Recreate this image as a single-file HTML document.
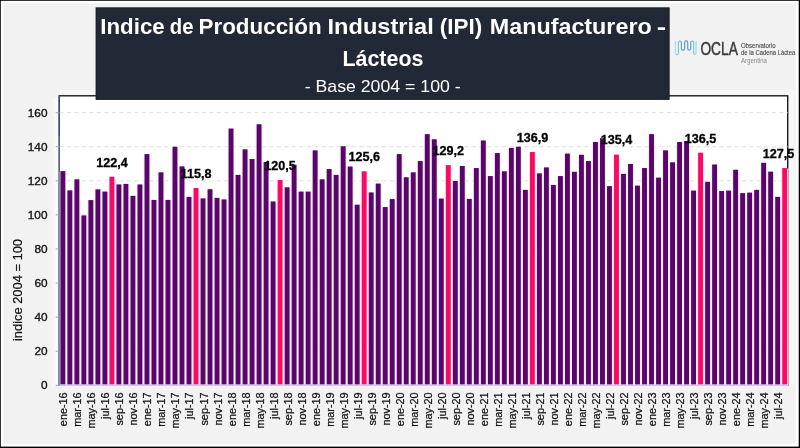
<!DOCTYPE html>
<html lang="es"><head><meta charset="utf-8">
<title>Indice de Producción Industrial (IPI) Manufacturero - Lácteos</title>
<style>
html,body{margin:0;padding:0;background:#f2f2f2;}
body{width:800px;height:448px;overflow:hidden;position:relative;font-family:"Liberation Sans",sans-serif;}
svg{position:absolute;left:0;top:0;display:block;will-change:transform;}
svg text{font-family:"Liberation Sans",sans-serif;}
</style></head><body>
<svg width="800" height="448" viewBox="0 0 800 448">
<rect x="0" y="0" width="800" height="448" fill="#000"/>
<rect x="0.8" y="0.8" width="797.9" height="445.8" fill="#fff"/>
<rect x="3.2" y="3.2" width="792.6" height="441" fill="#f2f2f2"/>
<defs><linearGradient id="hl" x1="0" y1="0" x2="1" y2="0"><stop offset="0" stop-color="#f2f2f2"/><stop offset="1" stop-color="#fdfdfd"/></linearGradient></defs>
<rect x="50" y="97.8" width="8.6" height="288.2" fill="url(#hl)"/>
<rect x="59.3" y="90.3" width="735.4000000000001" height="5.5" fill="#f7f7f7"/>
<rect x="787.7" y="90.3" width="7" height="294.7" fill="#f7f7f7"/>
<rect x="59.3" y="95.8" width="728.4000000000001" height="289.2" fill="#fff" stroke="#1a1a1a" stroke-width="1.4"/>
<line x1="59.3" y1="351.22" x2="787.7" y2="351.22" stroke="#d9d9d9" stroke-width="0.9" stroke-dasharray="4.2 3.3"/>
<line x1="59.3" y1="317.14" x2="787.7" y2="317.14" stroke="#d9d9d9" stroke-width="0.9" stroke-dasharray="4.2 3.3"/>
<line x1="59.3" y1="283.06" x2="787.7" y2="283.06" stroke="#d9d9d9" stroke-width="0.9" stroke-dasharray="4.2 3.3"/>
<line x1="59.3" y1="248.98" x2="787.7" y2="248.98" stroke="#d9d9d9" stroke-width="0.9" stroke-dasharray="4.2 3.3"/>
<line x1="59.3" y1="214.90" x2="787.7" y2="214.90" stroke="#d9d9d9" stroke-width="0.9" stroke-dasharray="4.2 3.3"/>
<line x1="59.3" y1="180.82" x2="787.7" y2="180.82" stroke="#d9d9d9" stroke-width="0.9" stroke-dasharray="4.2 3.3"/>
<line x1="59.3" y1="146.74" x2="787.7" y2="146.74" stroke="#d9d9d9" stroke-width="0.9" stroke-dasharray="4.2 3.3"/>
<line x1="59.3" y1="112.66" x2="787.7" y2="112.66" stroke="#d9d9d9" stroke-width="0.9" stroke-dasharray="4.2 3.3"/>
<g shape-rendering="auto">
<rect x="59.35" y="171.61" width="7.00" height="213.69" fill="#fdeafd"/>
<rect x="60.40" y="171.11" width="4.9" height="213.49" fill="#58066a"/>
<rect x="66.36" y="190.86" width="7.00" height="194.44" fill="#fdeafd"/>
<rect x="67.41" y="190.36" width="4.9" height="194.24" fill="#58066a"/>
<rect x="73.37" y="179.79" width="7.00" height="205.51" fill="#fdeafd"/>
<rect x="74.42" y="179.29" width="4.9" height="205.31" fill="#58066a"/>
<rect x="80.37" y="215.91" width="7.00" height="169.39" fill="#fdeafd"/>
<rect x="81.42" y="215.41" width="4.9" height="169.19" fill="#58066a"/>
<rect x="87.38" y="200.58" width="7.00" height="184.72" fill="#fdeafd"/>
<rect x="88.43" y="200.08" width="4.9" height="184.52" fill="#58066a"/>
<rect x="94.39" y="189.84" width="7.00" height="195.46" fill="#fdeafd"/>
<rect x="95.44" y="189.34" width="4.9" height="195.26" fill="#58066a"/>
<rect x="101.40" y="192.06" width="7.00" height="193.24" fill="#fdeafd"/>
<rect x="102.45" y="191.56" width="4.9" height="193.04" fill="#58066a"/>
<rect x="108.41" y="177.23" width="7.00" height="208.07" fill="#fdeafd"/>
<rect x="109.46" y="176.73" width="4.9" height="207.87" fill="#fb0a64"/>
<rect x="115.41" y="184.90" width="7.00" height="200.40" fill="#fdeafd"/>
<rect x="116.46" y="184.40" width="4.9" height="200.20" fill="#58066a"/>
<rect x="122.42" y="184.39" width="7.00" height="200.91" fill="#fdeafd"/>
<rect x="123.47" y="183.89" width="4.9" height="200.71" fill="#58066a"/>
<rect x="129.43" y="196.32" width="7.00" height="188.98" fill="#fdeafd"/>
<rect x="130.48" y="195.82" width="4.9" height="188.78" fill="#58066a"/>
<rect x="136.44" y="184.90" width="7.00" height="200.40" fill="#fdeafd"/>
<rect x="137.49" y="184.40" width="4.9" height="200.20" fill="#58066a"/>
<rect x="143.45" y="154.57" width="7.00" height="230.73" fill="#fdeafd"/>
<rect x="144.50" y="154.07" width="4.9" height="230.53" fill="#58066a"/>
<rect x="150.45" y="200.40" width="7.00" height="184.90" fill="#fdeafd"/>
<rect x="151.50" y="199.90" width="4.9" height="184.70" fill="#58066a"/>
<rect x="157.46" y="172.80" width="7.00" height="212.50" fill="#fdeafd"/>
<rect x="158.51" y="172.30" width="4.9" height="212.30" fill="#58066a"/>
<rect x="164.47" y="200.40" width="7.00" height="184.90" fill="#fdeafd"/>
<rect x="165.52" y="199.90" width="4.9" height="184.70" fill="#58066a"/>
<rect x="171.48" y="147.24" width="7.00" height="238.06" fill="#fdeafd"/>
<rect x="172.53" y="146.74" width="4.9" height="237.86" fill="#58066a"/>
<rect x="178.49" y="166.84" width="7.00" height="218.46" fill="#fdeafd"/>
<rect x="179.54" y="166.34" width="4.9" height="218.26" fill="#58066a"/>
<rect x="185.49" y="197.34" width="7.00" height="187.96" fill="#fdeafd"/>
<rect x="186.54" y="196.84" width="4.9" height="187.76" fill="#58066a"/>
<rect x="192.50" y="188.48" width="7.00" height="196.82" fill="#fdeafd"/>
<rect x="193.55" y="187.98" width="4.9" height="196.62" fill="#fb0a64"/>
<rect x="199.51" y="198.87" width="7.00" height="186.43" fill="#fdeafd"/>
<rect x="200.56" y="198.37" width="4.9" height="186.23" fill="#58066a"/>
<rect x="206.52" y="189.67" width="7.00" height="195.63" fill="#fdeafd"/>
<rect x="207.57" y="189.17" width="4.9" height="195.43" fill="#58066a"/>
<rect x="213.53" y="198.36" width="7.00" height="186.94" fill="#fdeafd"/>
<rect x="214.58" y="197.86" width="4.9" height="186.74" fill="#58066a"/>
<rect x="220.53" y="199.89" width="7.00" height="185.41" fill="#fdeafd"/>
<rect x="221.58" y="199.39" width="4.9" height="185.21" fill="#58066a"/>
<rect x="227.54" y="129.01" width="7.00" height="256.29" fill="#fdeafd"/>
<rect x="228.59" y="128.51" width="4.9" height="256.09" fill="#58066a"/>
<rect x="234.55" y="175.36" width="7.00" height="209.94" fill="#fdeafd"/>
<rect x="235.60" y="174.86" width="4.9" height="209.74" fill="#58066a"/>
<rect x="241.56" y="149.80" width="7.00" height="235.50" fill="#fdeafd"/>
<rect x="242.61" y="149.30" width="4.9" height="235.30" fill="#58066a"/>
<rect x="248.57" y="159.51" width="7.00" height="225.79" fill="#fdeafd"/>
<rect x="249.62" y="159.01" width="4.9" height="225.59" fill="#58066a"/>
<rect x="255.57" y="124.75" width="7.00" height="260.55" fill="#fdeafd"/>
<rect x="256.62" y="124.25" width="4.9" height="260.35" fill="#58066a"/>
<rect x="262.58" y="162.58" width="7.00" height="222.72" fill="#fdeafd"/>
<rect x="263.63" y="162.08" width="4.9" height="222.52" fill="#58066a"/>
<rect x="269.59" y="201.94" width="7.00" height="183.36" fill="#fdeafd"/>
<rect x="270.64" y="201.44" width="4.9" height="183.16" fill="#58066a"/>
<rect x="276.60" y="180.47" width="7.00" height="204.83" fill="#fdeafd"/>
<rect x="277.65" y="179.97" width="4.9" height="204.63" fill="#fb0a64"/>
<rect x="283.61" y="187.80" width="7.00" height="197.50" fill="#fdeafd"/>
<rect x="284.66" y="187.30" width="4.9" height="197.30" fill="#58066a"/>
<rect x="290.61" y="165.30" width="7.00" height="220.00" fill="#fdeafd"/>
<rect x="291.66" y="164.80" width="4.9" height="219.80" fill="#58066a"/>
<rect x="297.62" y="192.06" width="7.00" height="193.24" fill="#fdeafd"/>
<rect x="298.67" y="191.56" width="4.9" height="193.04" fill="#58066a"/>
<rect x="304.63" y="192.06" width="7.00" height="193.24" fill="#fdeafd"/>
<rect x="305.68" y="191.56" width="4.9" height="193.04" fill="#58066a"/>
<rect x="311.64" y="150.82" width="7.00" height="234.48" fill="#fdeafd"/>
<rect x="312.69" y="150.32" width="4.9" height="234.28" fill="#58066a"/>
<rect x="318.65" y="179.79" width="7.00" height="205.51" fill="#fdeafd"/>
<rect x="319.70" y="179.29" width="4.9" height="205.31" fill="#58066a"/>
<rect x="325.65" y="169.56" width="7.00" height="215.74" fill="#fdeafd"/>
<rect x="326.70" y="169.06" width="4.9" height="215.54" fill="#58066a"/>
<rect x="332.66" y="175.36" width="7.00" height="209.94" fill="#fdeafd"/>
<rect x="333.71" y="174.86" width="4.9" height="209.74" fill="#58066a"/>
<rect x="339.67" y="146.73" width="7.00" height="238.57" fill="#fdeafd"/>
<rect x="340.72" y="146.23" width="4.9" height="238.37" fill="#58066a"/>
<rect x="346.68" y="167.01" width="7.00" height="218.29" fill="#fdeafd"/>
<rect x="347.73" y="166.51" width="4.9" height="218.09" fill="#58066a"/>
<rect x="353.69" y="205.18" width="7.00" height="180.12" fill="#fdeafd"/>
<rect x="354.74" y="204.68" width="4.9" height="179.92" fill="#58066a"/>
<rect x="360.69" y="171.78" width="7.00" height="213.52" fill="#fdeafd"/>
<rect x="361.74" y="171.28" width="4.9" height="213.32" fill="#fb0a64"/>
<rect x="367.70" y="192.91" width="7.00" height="192.39" fill="#fdeafd"/>
<rect x="368.75" y="192.41" width="4.9" height="192.19" fill="#58066a"/>
<rect x="374.71" y="184.05" width="7.00" height="201.25" fill="#fdeafd"/>
<rect x="375.76" y="183.55" width="4.9" height="201.05" fill="#58066a"/>
<rect x="381.72" y="207.56" width="7.00" height="177.74" fill="#fdeafd"/>
<rect x="382.77" y="207.06" width="4.9" height="177.54" fill="#58066a"/>
<rect x="388.73" y="199.55" width="7.00" height="185.75" fill="#fdeafd"/>
<rect x="389.78" y="199.05" width="4.9" height="185.55" fill="#58066a"/>
<rect x="395.73" y="154.57" width="7.00" height="230.73" fill="#fdeafd"/>
<rect x="396.78" y="154.07" width="4.9" height="230.53" fill="#58066a"/>
<rect x="402.74" y="177.74" width="7.00" height="207.56" fill="#fdeafd"/>
<rect x="403.79" y="177.24" width="4.9" height="207.36" fill="#58066a"/>
<rect x="409.75" y="172.80" width="7.00" height="212.50" fill="#fdeafd"/>
<rect x="410.80" y="172.30" width="4.9" height="212.30" fill="#58066a"/>
<rect x="416.76" y="161.55" width="7.00" height="223.75" fill="#fdeafd"/>
<rect x="417.81" y="161.05" width="4.9" height="223.55" fill="#58066a"/>
<rect x="423.77" y="134.63" width="7.00" height="250.67" fill="#fdeafd"/>
<rect x="424.82" y="134.13" width="4.9" height="250.47" fill="#58066a"/>
<rect x="430.77" y="139.74" width="7.00" height="245.56" fill="#fdeafd"/>
<rect x="431.82" y="139.24" width="4.9" height="245.36" fill="#58066a"/>
<rect x="437.78" y="199.04" width="7.00" height="186.26" fill="#fdeafd"/>
<rect x="438.83" y="198.54" width="4.9" height="186.06" fill="#58066a"/>
<rect x="444.79" y="165.64" width="7.00" height="219.66" fill="#fdeafd"/>
<rect x="445.84" y="165.14" width="4.9" height="219.46" fill="#fb0a64"/>
<rect x="451.80" y="181.49" width="7.00" height="203.81" fill="#fdeafd"/>
<rect x="452.85" y="180.99" width="4.9" height="203.61" fill="#58066a"/>
<rect x="458.81" y="166.50" width="7.00" height="218.80" fill="#fdeafd"/>
<rect x="459.86" y="166.00" width="4.9" height="218.60" fill="#58066a"/>
<rect x="465.81" y="199.38" width="7.00" height="185.92" fill="#fdeafd"/>
<rect x="466.86" y="198.88" width="4.9" height="185.72" fill="#58066a"/>
<rect x="472.82" y="168.54" width="7.00" height="216.76" fill="#fdeafd"/>
<rect x="473.87" y="168.04" width="4.9" height="216.56" fill="#58066a"/>
<rect x="479.83" y="140.94" width="7.00" height="244.36" fill="#fdeafd"/>
<rect x="480.88" y="140.44" width="4.9" height="244.16" fill="#58066a"/>
<rect x="486.84" y="176.55" width="7.00" height="208.75" fill="#fdeafd"/>
<rect x="487.89" y="176.05" width="4.9" height="208.55" fill="#58066a"/>
<rect x="493.85" y="153.54" width="7.00" height="231.76" fill="#fdeafd"/>
<rect x="494.90" y="153.04" width="4.9" height="231.56" fill="#58066a"/>
<rect x="500.85" y="171.78" width="7.00" height="213.52" fill="#fdeafd"/>
<rect x="501.90" y="171.28" width="4.9" height="213.32" fill="#58066a"/>
<rect x="507.86" y="148.43" width="7.00" height="236.87" fill="#fdeafd"/>
<rect x="508.91" y="147.93" width="4.9" height="236.67" fill="#58066a"/>
<rect x="514.87" y="147.24" width="7.00" height="238.06" fill="#fdeafd"/>
<rect x="515.92" y="146.74" width="4.9" height="237.86" fill="#58066a"/>
<rect x="521.88" y="190.35" width="7.00" height="194.95" fill="#fdeafd"/>
<rect x="522.93" y="189.85" width="4.9" height="194.75" fill="#58066a"/>
<rect x="528.89" y="152.52" width="7.00" height="232.78" fill="#fdeafd"/>
<rect x="529.94" y="152.02" width="4.9" height="232.58" fill="#fb0a64"/>
<rect x="535.89" y="173.82" width="7.00" height="211.48" fill="#fdeafd"/>
<rect x="536.94" y="173.32" width="4.9" height="211.28" fill="#58066a"/>
<rect x="542.90" y="167.86" width="7.00" height="217.44" fill="#fdeafd"/>
<rect x="543.95" y="167.36" width="4.9" height="217.24" fill="#58066a"/>
<rect x="549.91" y="185.41" width="7.00" height="199.89" fill="#fdeafd"/>
<rect x="550.96" y="184.91" width="4.9" height="199.69" fill="#58066a"/>
<rect x="556.92" y="176.55" width="7.00" height="208.75" fill="#fdeafd"/>
<rect x="557.97" y="176.05" width="4.9" height="208.55" fill="#58066a"/>
<rect x="563.93" y="154.06" width="7.00" height="231.24" fill="#fdeafd"/>
<rect x="564.98" y="153.56" width="4.9" height="231.04" fill="#58066a"/>
<rect x="570.93" y="172.29" width="7.00" height="213.01" fill="#fdeafd"/>
<rect x="571.98" y="171.79" width="4.9" height="212.81" fill="#58066a"/>
<rect x="577.94" y="155.25" width="7.00" height="230.05" fill="#fdeafd"/>
<rect x="578.99" y="154.75" width="4.9" height="229.85" fill="#58066a"/>
<rect x="584.95" y="161.55" width="7.00" height="223.75" fill="#fdeafd"/>
<rect x="586.00" y="161.05" width="4.9" height="223.55" fill="#58066a"/>
<rect x="591.96" y="142.47" width="7.00" height="242.83" fill="#fdeafd"/>
<rect x="593.01" y="141.97" width="4.9" height="242.63" fill="#58066a"/>
<rect x="598.97" y="138.72" width="7.00" height="246.58" fill="#fdeafd"/>
<rect x="600.02" y="138.22" width="4.9" height="246.38" fill="#58066a"/>
<rect x="605.97" y="186.60" width="7.00" height="198.70" fill="#fdeafd"/>
<rect x="607.02" y="186.10" width="4.9" height="198.50" fill="#58066a"/>
<rect x="612.98" y="155.08" width="7.00" height="230.22" fill="#fdeafd"/>
<rect x="614.03" y="154.58" width="4.9" height="230.02" fill="#fb0a64"/>
<rect x="619.99" y="174.33" width="7.00" height="210.97" fill="#fdeafd"/>
<rect x="621.04" y="173.83" width="4.9" height="210.77" fill="#58066a"/>
<rect x="627.00" y="164.45" width="7.00" height="220.85" fill="#fdeafd"/>
<rect x="628.05" y="163.95" width="4.9" height="220.65" fill="#58066a"/>
<rect x="634.01" y="186.09" width="7.00" height="199.21" fill="#fdeafd"/>
<rect x="635.06" y="185.59" width="4.9" height="199.01" fill="#58066a"/>
<rect x="641.01" y="168.54" width="7.00" height="216.76" fill="#fdeafd"/>
<rect x="642.06" y="168.04" width="4.9" height="216.56" fill="#58066a"/>
<rect x="648.02" y="134.63" width="7.00" height="250.67" fill="#fdeafd"/>
<rect x="649.07" y="134.13" width="4.9" height="250.47" fill="#58066a"/>
<rect x="655.03" y="178.08" width="7.00" height="207.22" fill="#fdeafd"/>
<rect x="656.08" y="177.58" width="4.9" height="207.02" fill="#58066a"/>
<rect x="662.04" y="150.82" width="7.00" height="234.48" fill="#fdeafd"/>
<rect x="663.09" y="150.32" width="4.9" height="234.28" fill="#58066a"/>
<rect x="669.05" y="162.75" width="7.00" height="222.55" fill="#fdeafd"/>
<rect x="670.10" y="162.25" width="4.9" height="222.35" fill="#58066a"/>
<rect x="676.05" y="142.47" width="7.00" height="242.83" fill="#fdeafd"/>
<rect x="677.10" y="141.97" width="4.9" height="242.63" fill="#58066a"/>
<rect x="683.06" y="141.45" width="7.00" height="243.85" fill="#fdeafd"/>
<rect x="684.11" y="140.95" width="4.9" height="243.65" fill="#58066a"/>
<rect x="690.07" y="191.03" width="7.00" height="194.27" fill="#fdeafd"/>
<rect x="691.12" y="190.53" width="4.9" height="194.07" fill="#58066a"/>
<rect x="697.08" y="153.20" width="7.00" height="232.10" fill="#fdeafd"/>
<rect x="698.13" y="152.70" width="4.9" height="231.90" fill="#fb0a64"/>
<rect x="704.09" y="182.34" width="7.00" height="202.96" fill="#fdeafd"/>
<rect x="705.14" y="181.84" width="4.9" height="202.76" fill="#58066a"/>
<rect x="711.09" y="164.96" width="7.00" height="220.34" fill="#fdeafd"/>
<rect x="712.14" y="164.46" width="4.9" height="220.14" fill="#58066a"/>
<rect x="718.10" y="191.54" width="7.00" height="193.76" fill="#fdeafd"/>
<rect x="719.15" y="191.04" width="4.9" height="193.56" fill="#58066a"/>
<rect x="725.11" y="191.03" width="7.00" height="194.27" fill="#fdeafd"/>
<rect x="726.16" y="190.53" width="4.9" height="194.07" fill="#58066a"/>
<rect x="732.12" y="170.24" width="7.00" height="215.06" fill="#fdeafd"/>
<rect x="733.17" y="169.74" width="4.9" height="214.86" fill="#58066a"/>
<rect x="739.13" y="193.59" width="7.00" height="191.71" fill="#fdeafd"/>
<rect x="740.18" y="193.09" width="4.9" height="191.51" fill="#58066a"/>
<rect x="746.13" y="193.08" width="7.00" height="192.22" fill="#fdeafd"/>
<rect x="747.18" y="192.58" width="4.9" height="192.02" fill="#58066a"/>
<rect x="753.14" y="190.35" width="7.00" height="194.95" fill="#fdeafd"/>
<rect x="754.19" y="189.85" width="4.9" height="194.75" fill="#58066a"/>
<rect x="760.15" y="163.26" width="7.00" height="222.04" fill="#fdeafd"/>
<rect x="761.20" y="162.76" width="4.9" height="221.84" fill="#58066a"/>
<rect x="767.16" y="172.12" width="7.00" height="213.18" fill="#fdeafd"/>
<rect x="768.21" y="171.62" width="4.9" height="212.98" fill="#58066a"/>
<rect x="774.17" y="197.34" width="7.00" height="187.96" fill="#fdeafd"/>
<rect x="775.22" y="196.84" width="4.9" height="187.76" fill="#58066a"/>
<rect x="781.17" y="168.54" width="7.00" height="216.76" fill="#fdeafd"/>
<rect x="782.22" y="168.04" width="4.9" height="216.56" fill="#fb0a64"/>
</g>
<line x1="59.3" y1="385.2" x2="787.7" y2="385.2" stroke="#cfc8ea" stroke-width="1.5"/>
<line x1="59.05" y1="95.39999999999999" x2="59.05" y2="135.8" stroke="#55659a" stroke-width="1.25"/>
<line x1="59.099999999999994" y1="135.8" x2="59.099999999999994" y2="385.90000000000003" stroke="#7484b6" stroke-width="1.15"/>
<line x1="55.699999999999996" y1="385.30" x2="59.3" y2="385.30" stroke="#8f9bc0" stroke-width="0.9"/>
<line x1="55.699999999999996" y1="351.22" x2="59.3" y2="351.22" stroke="#8f9bc0" stroke-width="0.9"/>
<line x1="55.699999999999996" y1="317.14" x2="59.3" y2="317.14" stroke="#8f9bc0" stroke-width="0.9"/>
<line x1="55.699999999999996" y1="283.06" x2="59.3" y2="283.06" stroke="#8f9bc0" stroke-width="0.9"/>
<line x1="55.699999999999996" y1="248.98" x2="59.3" y2="248.98" stroke="#8f9bc0" stroke-width="0.9"/>
<line x1="55.699999999999996" y1="214.90" x2="59.3" y2="214.90" stroke="#8f9bc0" stroke-width="0.9"/>
<line x1="55.699999999999996" y1="180.82" x2="59.3" y2="180.82" stroke="#8f9bc0" stroke-width="0.9"/>
<line x1="55.699999999999996" y1="146.74" x2="59.3" y2="146.74" stroke="#8f9bc0" stroke-width="0.9"/>
<line x1="55.699999999999996" y1="112.66" x2="59.3" y2="112.66" stroke="#8f9bc0" stroke-width="0.9"/>
<text x="47.5" y="389.20" font-size="11.8" text-anchor="end" fill="#1a1a1a" stroke="#1a1a1a" stroke-width="0.4">0</text>
<text x="47.5" y="355.12" font-size="11.8" text-anchor="end" fill="#1a1a1a" stroke="#1a1a1a" stroke-width="0.4">20</text>
<text x="47.5" y="321.04" font-size="11.8" text-anchor="end" fill="#1a1a1a" stroke="#1a1a1a" stroke-width="0.4">40</text>
<text x="47.5" y="286.96" font-size="11.8" text-anchor="end" fill="#1a1a1a" stroke="#1a1a1a" stroke-width="0.4">60</text>
<text x="47.5" y="252.88" font-size="11.8" text-anchor="end" fill="#1a1a1a" stroke="#1a1a1a" stroke-width="0.4">80</text>
<text x="47.5" y="218.80" font-size="11.8" text-anchor="end" fill="#1a1a1a" stroke="#1a1a1a" stroke-width="0.4">100</text>
<text x="47.5" y="184.72" font-size="11.8" text-anchor="end" fill="#1a1a1a" stroke="#1a1a1a" stroke-width="0.4">120</text>
<text x="47.5" y="150.64" font-size="11.8" text-anchor="end" fill="#1a1a1a" stroke="#1a1a1a" stroke-width="0.4">140</text>
<text x="47.5" y="116.56" font-size="11.8" text-anchor="end" fill="#1a1a1a" stroke="#1a1a1a" stroke-width="0.4">160</text>
<text transform="translate(21.9,290) rotate(-90)" font-size="12.5" text-anchor="middle" fill="#111" stroke="#111" stroke-width="0.2" textLength="102" lengthAdjust="spacingAndGlyphs">indice 2004 = 100</text>
<text transform="translate(67.35,392.4) rotate(-90) scale(1.085,1)" font-size="10" text-anchor="end" fill="#111" stroke="#111" stroke-width="0.22">ene-16</text>
<text transform="translate(81.37,392.4) rotate(-90) scale(1.085,1)" font-size="10" text-anchor="end" fill="#111" stroke="#111" stroke-width="0.22">mar-16</text>
<text transform="translate(95.38,392.4) rotate(-90) scale(1.085,1)" font-size="10" text-anchor="end" fill="#111" stroke="#111" stroke-width="0.22">may-16</text>
<text transform="translate(109.40,392.4) rotate(-90) scale(1.085,1)" font-size="10" text-anchor="end" fill="#111" stroke="#111" stroke-width="0.22">jul-16</text>
<text transform="translate(123.41,392.4) rotate(-90) scale(1.085,1)" font-size="10" text-anchor="end" fill="#111" stroke="#111" stroke-width="0.22">sep-16</text>
<text transform="translate(137.43,392.4) rotate(-90) scale(1.085,1)" font-size="10" text-anchor="end" fill="#111" stroke="#111" stroke-width="0.22">nov-16</text>
<text transform="translate(151.45,392.4) rotate(-90) scale(1.085,1)" font-size="10" text-anchor="end" fill="#111" stroke="#111" stroke-width="0.22">ene-17</text>
<text transform="translate(165.46,392.4) rotate(-90) scale(1.085,1)" font-size="10" text-anchor="end" fill="#111" stroke="#111" stroke-width="0.22">mar-17</text>
<text transform="translate(179.48,392.4) rotate(-90) scale(1.085,1)" font-size="10" text-anchor="end" fill="#111" stroke="#111" stroke-width="0.22">may-17</text>
<text transform="translate(193.49,392.4) rotate(-90) scale(1.085,1)" font-size="10" text-anchor="end" fill="#111" stroke="#111" stroke-width="0.22">jul-17</text>
<text transform="translate(207.51,392.4) rotate(-90) scale(1.085,1)" font-size="10" text-anchor="end" fill="#111" stroke="#111" stroke-width="0.22">sep-17</text>
<text transform="translate(221.53,392.4) rotate(-90) scale(1.085,1)" font-size="10" text-anchor="end" fill="#111" stroke="#111" stroke-width="0.22">nov-17</text>
<text transform="translate(235.54,392.4) rotate(-90) scale(1.085,1)" font-size="10" text-anchor="end" fill="#111" stroke="#111" stroke-width="0.22">ene-18</text>
<text transform="translate(249.56,392.4) rotate(-90) scale(1.085,1)" font-size="10" text-anchor="end" fill="#111" stroke="#111" stroke-width="0.22">mar-18</text>
<text transform="translate(263.57,392.4) rotate(-90) scale(1.085,1)" font-size="10" text-anchor="end" fill="#111" stroke="#111" stroke-width="0.22">may-18</text>
<text transform="translate(277.59,392.4) rotate(-90) scale(1.085,1)" font-size="10" text-anchor="end" fill="#111" stroke="#111" stroke-width="0.22">jul-18</text>
<text transform="translate(291.61,392.4) rotate(-90) scale(1.085,1)" font-size="10" text-anchor="end" fill="#111" stroke="#111" stroke-width="0.22">sep-18</text>
<text transform="translate(305.62,392.4) rotate(-90) scale(1.085,1)" font-size="10" text-anchor="end" fill="#111" stroke="#111" stroke-width="0.22">nov-18</text>
<text transform="translate(319.64,392.4) rotate(-90) scale(1.085,1)" font-size="10" text-anchor="end" fill="#111" stroke="#111" stroke-width="0.22">ene-19</text>
<text transform="translate(333.65,392.4) rotate(-90) scale(1.085,1)" font-size="10" text-anchor="end" fill="#111" stroke="#111" stroke-width="0.22">mar-19</text>
<text transform="translate(347.67,392.4) rotate(-90) scale(1.085,1)" font-size="10" text-anchor="end" fill="#111" stroke="#111" stroke-width="0.22">may-19</text>
<text transform="translate(361.69,392.4) rotate(-90) scale(1.085,1)" font-size="10" text-anchor="end" fill="#111" stroke="#111" stroke-width="0.22">jul-19</text>
<text transform="translate(375.70,392.4) rotate(-90) scale(1.085,1)" font-size="10" text-anchor="end" fill="#111" stroke="#111" stroke-width="0.22">sep-19</text>
<text transform="translate(389.72,392.4) rotate(-90) scale(1.085,1)" font-size="10" text-anchor="end" fill="#111" stroke="#111" stroke-width="0.22">nov-19</text>
<text transform="translate(403.73,392.4) rotate(-90) scale(1.085,1)" font-size="10" text-anchor="end" fill="#111" stroke="#111" stroke-width="0.22">ene-20</text>
<text transform="translate(417.75,392.4) rotate(-90) scale(1.085,1)" font-size="10" text-anchor="end" fill="#111" stroke="#111" stroke-width="0.22">mar-20</text>
<text transform="translate(431.77,392.4) rotate(-90) scale(1.085,1)" font-size="10" text-anchor="end" fill="#111" stroke="#111" stroke-width="0.22">may-20</text>
<text transform="translate(445.78,392.4) rotate(-90) scale(1.085,1)" font-size="10" text-anchor="end" fill="#111" stroke="#111" stroke-width="0.22">jul-20</text>
<text transform="translate(459.80,392.4) rotate(-90) scale(1.085,1)" font-size="10" text-anchor="end" fill="#111" stroke="#111" stroke-width="0.22">sep-20</text>
<text transform="translate(473.81,392.4) rotate(-90) scale(1.085,1)" font-size="10" text-anchor="end" fill="#111" stroke="#111" stroke-width="0.22">nov-20</text>
<text transform="translate(487.83,392.4) rotate(-90) scale(1.085,1)" font-size="10" text-anchor="end" fill="#111" stroke="#111" stroke-width="0.22">ene-21</text>
<text transform="translate(501.85,392.4) rotate(-90) scale(1.085,1)" font-size="10" text-anchor="end" fill="#111" stroke="#111" stroke-width="0.22">mar-21</text>
<text transform="translate(515.86,392.4) rotate(-90) scale(1.085,1)" font-size="10" text-anchor="end" fill="#111" stroke="#111" stroke-width="0.22">may-21</text>
<text transform="translate(529.88,392.4) rotate(-90) scale(1.085,1)" font-size="10" text-anchor="end" fill="#111" stroke="#111" stroke-width="0.22">jul-21</text>
<text transform="translate(543.89,392.4) rotate(-90) scale(1.085,1)" font-size="10" text-anchor="end" fill="#111" stroke="#111" stroke-width="0.22">sep-21</text>
<text transform="translate(557.91,392.4) rotate(-90) scale(1.085,1)" font-size="10" text-anchor="end" fill="#111" stroke="#111" stroke-width="0.22">nov-21</text>
<text transform="translate(571.93,392.4) rotate(-90) scale(1.085,1)" font-size="10" text-anchor="end" fill="#111" stroke="#111" stroke-width="0.22">ene-22</text>
<text transform="translate(585.94,392.4) rotate(-90) scale(1.085,1)" font-size="10" text-anchor="end" fill="#111" stroke="#111" stroke-width="0.22">mar-22</text>
<text transform="translate(599.96,392.4) rotate(-90) scale(1.085,1)" font-size="10" text-anchor="end" fill="#111" stroke="#111" stroke-width="0.22">may-22</text>
<text transform="translate(613.97,392.4) rotate(-90) scale(1.085,1)" font-size="10" text-anchor="end" fill="#111" stroke="#111" stroke-width="0.22">jul-22</text>
<text transform="translate(627.99,392.4) rotate(-90) scale(1.085,1)" font-size="10" text-anchor="end" fill="#111" stroke="#111" stroke-width="0.22">sep-22</text>
<text transform="translate(642.01,392.4) rotate(-90) scale(1.085,1)" font-size="10" text-anchor="end" fill="#111" stroke="#111" stroke-width="0.22">nov-22</text>
<text transform="translate(656.02,392.4) rotate(-90) scale(1.085,1)" font-size="10" text-anchor="end" fill="#111" stroke="#111" stroke-width="0.22">ene-23</text>
<text transform="translate(670.04,392.4) rotate(-90) scale(1.085,1)" font-size="10" text-anchor="end" fill="#111" stroke="#111" stroke-width="0.22">mar-23</text>
<text transform="translate(684.05,392.4) rotate(-90) scale(1.085,1)" font-size="10" text-anchor="end" fill="#111" stroke="#111" stroke-width="0.22">may-23</text>
<text transform="translate(698.07,392.4) rotate(-90) scale(1.085,1)" font-size="10" text-anchor="end" fill="#111" stroke="#111" stroke-width="0.22">jul-23</text>
<text transform="translate(712.09,392.4) rotate(-90) scale(1.085,1)" font-size="10" text-anchor="end" fill="#111" stroke="#111" stroke-width="0.22">sep-23</text>
<text transform="translate(726.10,392.4) rotate(-90) scale(1.085,1)" font-size="10" text-anchor="end" fill="#111" stroke="#111" stroke-width="0.22">nov-23</text>
<text transform="translate(740.12,392.4) rotate(-90) scale(1.085,1)" font-size="10" text-anchor="end" fill="#111" stroke="#111" stroke-width="0.22">ene-24</text>
<text transform="translate(754.13,392.4) rotate(-90) scale(1.085,1)" font-size="10" text-anchor="end" fill="#111" stroke="#111" stroke-width="0.22">mar-24</text>
<text transform="translate(768.15,392.4) rotate(-90) scale(1.085,1)" font-size="10" text-anchor="end" fill="#111" stroke="#111" stroke-width="0.22">may-24</text>
<text transform="translate(782.17,392.4) rotate(-90) scale(1.085,1)" font-size="10" text-anchor="end" fill="#111" stroke="#111" stroke-width="0.22">jul-24</text>
<text x="111.91" y="166.63" font-size="12.6" font-weight="bold" text-anchor="middle" fill="#000" stroke="#000" stroke-width="0.3">122,4</text>
<text x="196.00" y="177.88" font-size="12.6" font-weight="bold" text-anchor="middle" fill="#000" stroke="#000" stroke-width="0.3">115,8</text>
<text x="280.10" y="169.87" font-size="12.6" font-weight="bold" text-anchor="middle" fill="#000" stroke="#000" stroke-width="0.3">120,5</text>
<text x="364.19" y="161.18" font-size="12.6" font-weight="bold" text-anchor="middle" fill="#000" stroke="#000" stroke-width="0.3">125,6</text>
<text x="448.29" y="155.04" font-size="12.6" font-weight="bold" text-anchor="middle" fill="#000" stroke="#000" stroke-width="0.3">129,2</text>
<text x="532.39" y="141.92" font-size="12.6" font-weight="bold" text-anchor="middle" fill="#000" stroke="#000" stroke-width="0.3">136,9</text>
<text x="616.48" y="144.48" font-size="12.6" font-weight="bold" text-anchor="middle" fill="#000" stroke="#000" stroke-width="0.3">135,4</text>
<text x="700.58" y="142.60" font-size="12.6" font-weight="bold" text-anchor="middle" fill="#000" stroke="#000" stroke-width="0.3">136,5</text>
<text x="778.47" y="157.94" font-size="12.6" font-weight="bold" text-anchor="middle" fill="#000" stroke="#000" stroke-width="0.3">127,5</text>
<rect x="96" y="7.8" width="573.2" height="91.7" fill="#222936" stroke="#14181f" stroke-width="0.8"/>
<text y="34.2" font-size="22.4" font-weight="bold" fill="#fff"><tspan x="100.30" textLength="64.40" lengthAdjust="spacingAndGlyphs">Indice</tspan> <tspan x="169.80" textLength="23.70" lengthAdjust="spacingAndGlyphs">de</tspan> <tspan x="198.55" textLength="123.15" lengthAdjust="spacingAndGlyphs">Producción</tspan> <tspan x="327.55" textLength="106.15" lengthAdjust="spacingAndGlyphs">Industrial</tspan> <tspan x="439.80" textLength="42.40" lengthAdjust="spacingAndGlyphs">(IPI)</tspan> <tspan x="489.80" textLength="161.90" lengthAdjust="spacingAndGlyphs">Manufacturero</tspan> <tspan x="656.80" textLength="9.40" lengthAdjust="spacingAndGlyphs">-</tspan></text>
<text x="382.9" y="66" font-size="22.4" font-weight="bold" text-anchor="middle" fill="#fff" textLength="81" lengthAdjust="spacingAndGlyphs">Lácteos</text>
<text x="382.7" y="92.2" font-size="17" text-anchor="middle" fill="#fff" textLength="156" lengthAdjust="spacingAndGlyphs">- Base 2004 = 100 -</text>
<defs><linearGradient id="wg" gradientUnits="userSpaceOnUse" x1="675" y1="0" x2="697" y2="0"><stop offset="0" stop-color="#a6e2f2"/><stop offset="0.3" stop-color="#5aa3c4"/><stop offset="0.7" stop-color="#5aa3c4"/><stop offset="1" stop-color="#a6e2f2"/></linearGradient></defs>
<g fill="none" stroke-width="1.2" stroke-linecap="round" stroke-linejoin="round">
<path d="M675.4 41.4 V53.3 a1.5 1.5 0 0 0 3 0 V42.5 a1.5 1.5 0 0 1 3 0 V48.6 a1.6 1.6 0 0 0 3.2 0 V42.5 a1.55 1.55 0 0 1 3.1 0 V48.6 a1.5 1.5 0 0 0 3 0 V42.5 a1.5 1.5 0 0 1 3 0 V53.3 a1.2 1.2 0 0 0 2.4 0 V41.4" stroke="url(#wg)"/>
</g>
<text x="700.4" y="54.5" font-size="17.6" fill="#3a3a3a" stroke="#3a3a3a" stroke-width="0.45" textLength="37.4" lengthAdjust="spacingAndGlyphs">OCLA</text>
<text x="741" y="47.8" font-size="6.4" fill="#4a4a4a" stroke="#4a4a4a" stroke-width="0.12" textLength="34.5" lengthAdjust="spacingAndGlyphs">Observatorio</text>
<text x="741" y="55.4" font-size="6.4" fill="#4a4a4a" stroke="#4a4a4a" stroke-width="0.12" textLength="54.3" lengthAdjust="spacingAndGlyphs">de la Cadena Láctea</text>
<text x="741" y="62.6" font-size="6.4" fill="#8a8a8a" textLength="26" lengthAdjust="spacingAndGlyphs">Argentina</text>
</svg>
</body></html>
